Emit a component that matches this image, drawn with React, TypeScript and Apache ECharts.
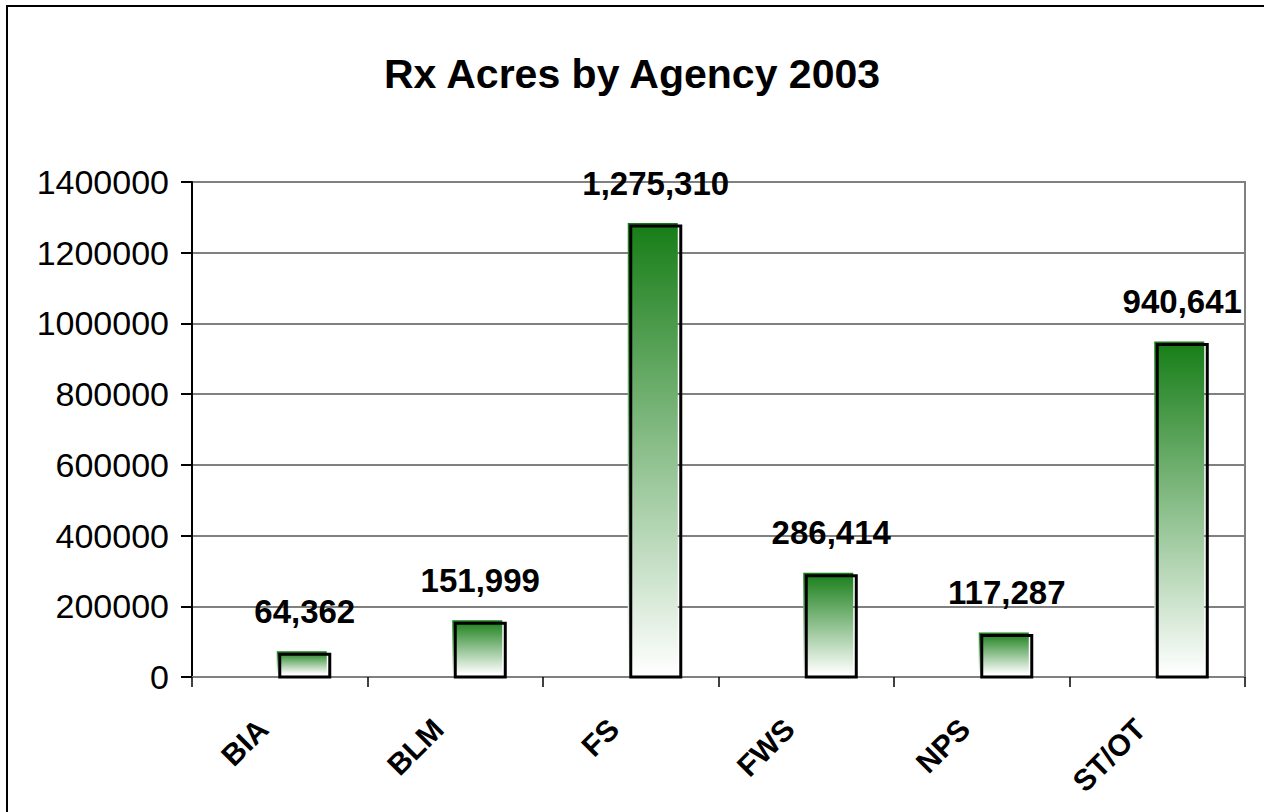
import React, { useEffect, useRef } from "react";
import * as echarts from "echarts";

const categories = ["BIA", "BLM", "FS", "FWS", "NPS", "ST/OT"];
const acres = [64362, 151999, 1275310, 286414, 117287, 940641];
const yTicks = { min: 0, max: 1400000, interval: 200000 };
const titleText = "Rx Acres by Agency 2003";

const FONT = 'Arial, "Liberation Sans", Helvetica, sans-serif';

export default function App() {
  const ref = useRef<HTMLDivElement>(null);
  useEffect(() => {
    if (!ref.current) return;
    const chart = echarts.init(ref.current, undefined, { renderer: "svg" });
    const fmt = (v: number) => v.toLocaleString("en-US");
    chart.setOption({
      animation: false,
      backgroundColor: "#ffffff",
      title: {
        text: titleText,
        left: "center",
        top: 48,
        textStyle: { fontFamily: FONT, fontWeight: "bold", fontSize: 41, color: "#000" },
      },
      graphic: [
        {
          type: "rect",
          shape: { x: 7, y: 6, width: 1400, height: 1000 },
          style: { fill: "none", stroke: "#000", lineWidth: 2 },
          silent: true,
          z: -10,
        },
      ],
      grid: {
        left: 192,
        right: 19,
        top: 182,
        bottom: 135,
        show: true,
        borderColor: "#808080",
        borderWidth: 2,
        backgroundColor: "transparent",
      },
      xAxis: {
        type: "category",
        data: categories,
        boundaryGap: true,
        axisLine: { show: true, lineStyle: { color: "#808080", width: 2 } },
        axisTick: { show: true, length: 10, lineStyle: { color: "#000", width: 1.5 } },
        axisLabel: {
          rotate: 45,
          margin: 30,
          padding: [0, 24, 0, 0],
          fontFamily: FONT,
          fontWeight: "bold",
          fontSize: 30,
          color: "#000",
        },
        splitLine: { show: false },
      },
      yAxis: {
        type: "value",
        min: yTicks.min,
        max: yTicks.max,
        interval: yTicks.interval,
        axisLine: { show: true, lineStyle: { color: "#000", width: 2 } },
        axisTick: { show: true, inside: false, length: 11, lineStyle: { color: "#000", width: 2 } },
        axisLabel: {
          margin: 23,
          fontFamily: FONT,
          fontSize: 34,
          color: "#000",
          formatter: (v: number) => String(v),
        },
        splitLine: { show: true, lineStyle: { color: "#808080", width: 2 } },
      },
      series: [
        {
          type: "custom",
          data: acres.map((v, i) => [i, v]),
          encode: { x: 0, y: 1 },
          renderItem: (params: any, api: any) => {
            const idx = api.value(0);
            const val = api.value(1);
            const top = api.coord([idx, val]);
            const base = api.coord([idx, 0]);
            const bandW = api.size([1, 0])[0];
            const w = bandW * 0.285;
            const x0 = top[0];
            const h = base[1] - top[1];
            return {
              type: "group",
              children: [
                {
                  type: "rect",
                  shape: { x: x0 - 3, y: top[1] - 3, width: w, height: h },
                  style: {
                    fill: new echarts.graphic.LinearGradient(0, 0, 0, 1, [
                      { offset: 0, color: "#167d16" },
                      { offset: 1, color: "#ffffff" },
                    ]),
                  },
                },
                {
                  type: "rect",
                  shape: { x: x0, y: top[1], width: w, height: h },
                  style: { fill: "none", stroke: "#000", lineWidth: 3 },
                },
                {
                  type: "text",
                  style: {
                    text: fmt(val),
                    x: x0 + w / 2,
                    y: top[1] - 43,
                    textAlign: "center",
                    textVerticalAlign: "middle",
                    font: `bold 33px ${FONT}`,
                    fill: "#000",
                  },
                },
              ],
            };
          },
          z: 5,
        },
      ],
    });
    return () => chart.dispose();
  }, []);
  return (
    <div
      ref={ref}
      style={{ position: "fixed", left: 0, top: 0, width: 1264, height: 812 }}
    />
  );
}
